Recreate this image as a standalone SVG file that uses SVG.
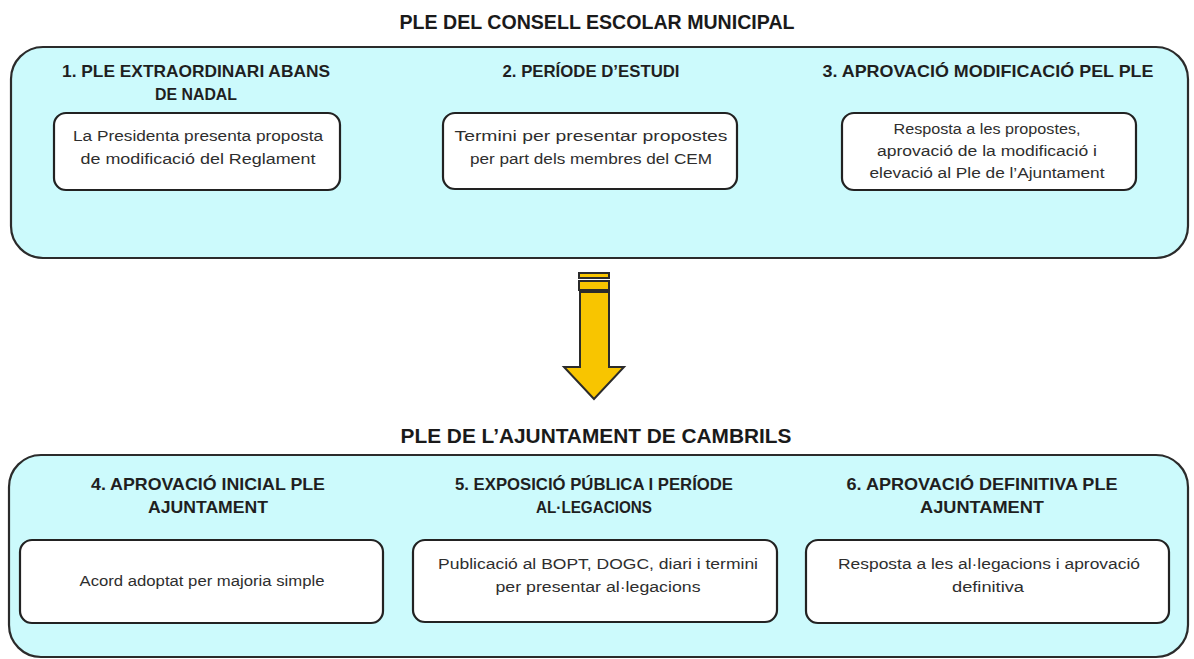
<svg xmlns="http://www.w3.org/2000/svg" width="1194" height="659" viewBox="0 0 1194 659">
<style>
.cont{fill:#ccfafc;stroke:#2b2b2b;stroke-width:2.2}
.box{fill:#ffffff;stroke:#222;stroke-width:2.2}
.title{font-family:"Liberation Sans",Arial,sans-serif;font-weight:bold;font-size:20.5px;fill:#1a1a1a;text-anchor:middle}
.head{font-family:"Liberation Sans",Arial,sans-serif;font-weight:bold;font-size:16.5px;fill:#1f1f1f;text-anchor:middle}
.body{font-family:"Liberation Sans",Arial,sans-serif;font-size:15.5px;fill:#2e2e2e;text-anchor:middle}
.arrow{fill:#f8c500;stroke:#2b2b2b;stroke-width:2}
</style>
<rect width="1194" height="659" fill="#ffffff"/>

<g id="council">
<text class="title" x="597" y="29" textLength="395" lengthAdjust="spacingAndGlyphs">PLE DEL CONSELL ESCOLAR MUNICIPAL</text>
<rect class="cont" x="11" y="47" width="1177" height="211" rx="32" ry="32"/>
</g>

<g id="step1">
<text class="head" x="196" y="77" textLength="268" lengthAdjust="spacingAndGlyphs">1. PLE EXTRAORDINARI ABANS</text>
<text class="head" x="196" y="100" textLength="82" lengthAdjust="spacingAndGlyphs">DE NADAL</text>
<rect class="box" x="54" y="113" width="286" height="77" rx="12" ry="12"/>
<text class="body" x="198" y="141" textLength="250" lengthAdjust="spacingAndGlyphs">La Presidenta presenta proposta</text>
<text class="body" x="198" y="164" textLength="235" lengthAdjust="spacingAndGlyphs">de modificació  del Reglament</text>
</g>

<g id="step2">
<text class="head" x="591" y="77" textLength="177" lengthAdjust="spacingAndGlyphs">2. PERÍODE D’ESTUDI</text>
<rect class="box" x="443" y="113" width="294" height="76" rx="12" ry="12"/>
<text class="body" x="591" y="141" textLength="273" lengthAdjust="spacingAndGlyphs">Termini per presentar propostes</text>
<text class="body" x="591" y="164" textLength="242" lengthAdjust="spacingAndGlyphs">per part dels membres del CEM</text>
</g>

<g id="step3">
<text class="head" x="988" y="77" textLength="331" lengthAdjust="spacingAndGlyphs">3. APROVACIÓ MODIFICACIÓ PEL PLE</text>
<rect class="box" x="842" y="113" width="294" height="77" rx="12" ry="12"/>
<text class="body" x="987" y="134" textLength="187" lengthAdjust="spacingAndGlyphs">Resposta a les propostes,</text>
<text class="body" x="987" y="156" textLength="220" lengthAdjust="spacingAndGlyphs">aprovació  de la modificació i</text>
<text class="body" x="987" y="178" textLength="235" lengthAdjust="spacingAndGlyphs">elevació al Ple de l’Ajuntament</text>
</g>

<g id="connectors">
<g id="arrow">
<rect class="arrow" x="579" y="273" width="30" height="5"/>
<rect class="arrow" x="579" y="281" width="30" height="9"/>
<polygon class="arrow" points="580,292 609,292 609,367 624,367 594,399 564,367 580,367"/>
</g>
</g>

<g id="council-town">
<text class="title" x="596" y="443" textLength="391" lengthAdjust="spacingAndGlyphs">PLE DE L’AJUNTAMENT DE CAMBRILS</text>
<rect class="cont" x="9" y="455" width="1179" height="202" rx="32" ry="32"/>
</g>

<g id="step4">
<text class="head" x="208" y="490" textLength="234" lengthAdjust="spacingAndGlyphs">4. APROVACIÓ INICIAL PLE</text>
<text class="head" x="208" y="513" textLength="120" lengthAdjust="spacingAndGlyphs">AJUNTAMENT</text>
<rect class="box" x="20" y="540" width="363" height="83" rx="12" ry="12"/>
<text class="body" x="202" y="586" textLength="245" lengthAdjust="spacingAndGlyphs">Acord adoptat per majoria simple</text>
</g>

<g id="step5">
<text class="head" x="594" y="490" textLength="278" lengthAdjust="spacingAndGlyphs">5. EXPOSICIÓ PÚBLICA I PERÍODE</text>
<text class="head" x="594" y="513" textLength="116" lengthAdjust="spacingAndGlyphs">AL·LEGACIONS</text>
<rect class="box" x="413" y="540" width="364" height="82" rx="12" ry="12"/>
<text class="body" x="598" y="569" textLength="320" lengthAdjust="spacingAndGlyphs">Publicació al BOPT, DOGC, diari i termini</text>
<text class="body" x="598" y="592" textLength="205" lengthAdjust="spacingAndGlyphs">per presentar al·legacions</text>
</g>

<g id="step6">
<text class="head" x="982" y="490" textLength="271" lengthAdjust="spacingAndGlyphs">6. APROVACIÓ DEFINITIVA PLE</text>
<text class="head" x="982" y="513" textLength="124" lengthAdjust="spacingAndGlyphs">AJUNTAMENT</text>
<rect class="box" x="806" y="540" width="363" height="83" rx="12" ry="12"/>
<text class="body" x="989" y="569" textLength="302" lengthAdjust="spacingAndGlyphs">Resposta  a les al·legacions i aprovació</text>
<text class="body" x="988" y="592" textLength="72" lengthAdjust="spacingAndGlyphs">definitiva</text>
</g>
</svg>
